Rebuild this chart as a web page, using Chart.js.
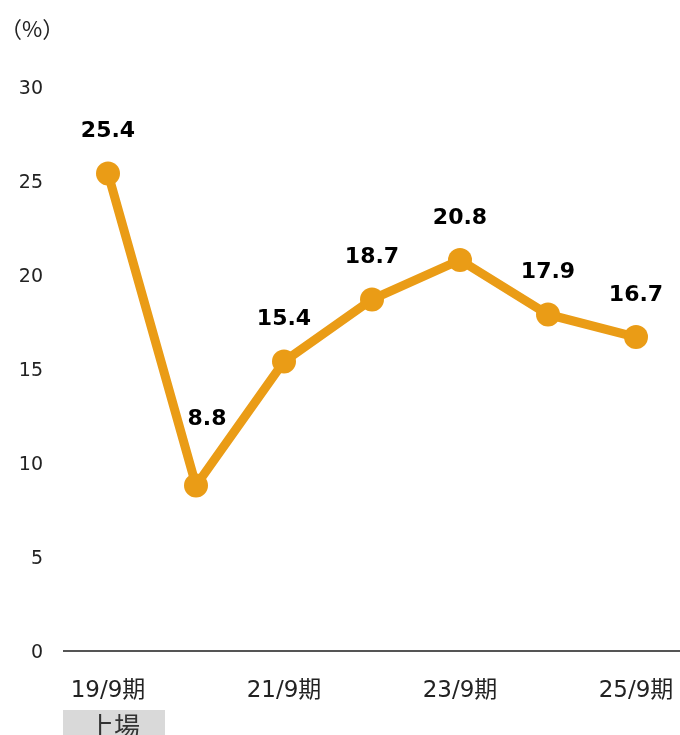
<!DOCTYPE html>
<html><head><meta charset="utf-8">
<script src="https://cdn.jsdelivr.net/npm/chart.js@4/dist/chart.umd.min.js"></script>
<style>html,body{margin:0;padding:0;background:#fff}canvas{display:block}</style>
</head><body>
<canvas id="c" width="680" height="735"></canvas>
<script>
const categories = ["19/9期","20/9期","21/9期","22/9期","23/9期","24/9期","25/9期"];
const roeValues = [25.4, 8.8, 15.4, 18.7, 20.8, 17.9, 16.7];
const shownTickIndexes = [0, 2, 4, 6];
const unitLabel = "（%）";
const listingNote = "上場";

const FONT = "'DejaVu Sans','Noto Sans CJK JP',sans-serif";
const CJK = "'Noto Sans CJK JP','DejaVu Sans',sans-serif";
const ORANGE = "#EA9C16";

const extras = {
  id: 'extras',
  afterDatasetsDraw(chart) {
    const ctx = chart.ctx;
    const meta = chart.getDatasetMeta(0);
    ctx.save();
    ctx.fillStyle = '#000';
    ctx.font = "bold 22px " + FONT;
    ctx.textAlign = 'center';
    ctx.textBaseline = 'middle';
    meta.data.forEach((pt, i) => {
      let dx = 0, dy = -42;
      if (i === 1) { dx = 11; dy = -66; }
      ctx.fillText(roeValues[i].toFixed(1), pt.x + dx, pt.y + dy);
    });
    ctx.fillStyle = '#222';
    ctx.font = "22px " + CJK;
    ctx.textAlign = 'left';
    ctx.fillText(unitLabel, 0, 29);
    const x0 = chart.scales.x.getPixelForValue(0);
    ctx.fillStyle = '#d9d9d9';
    ctx.fillRect(x0 - 45, 710, 102, 30);
    ctx.fillStyle = '#333';
    ctx.font = "26px " + CJK;
    ctx.textAlign = 'center';
    ctx.fillText(listingNote, x0 + 6, 726);
    ctx.restore();
  }
};

new Chart(document.getElementById('c'), {
  type: 'line',
  data: {
    labels: categories,
    datasets: [{
      data: roeValues,
      borderColor: ORANGE,
      backgroundColor: ORANGE,
      borderWidth: 9,
      pointRadius: 12,
      pointHoverRadius: 12,
      pointBackgroundColor: ORANGE,
      pointBorderWidth: 0,
      tension: 0,
      clip: false
    }]
  },
  options: {
    responsive: false,
    devicePixelRatio: 1,
    animation: false,
    layout: { autoPadding: false, padding: { top: 87, right: 0, bottom: 0, left: 0 } },
    plugins: { legend: { display: false }, tooltip: { enabled: false } },
    scales: {
      x: {
        offset: true,
        grid: { display: false, drawTicks: false },
        border: { display: true, color: '#555', width: 2 },
        ticks: {
          autoSkip: false, maxRotation: 0, padding: 26,
          color: '#222', font: { size: 23, family: FONT },
          callback: (v, i) => shownTickIndexes.includes(i) ? categories[i] : ''
        },
        afterFit: (s) => { s.height = 84; s.paddingRight = 0; s.paddingLeft = 0; }
      },
      y: {
        min: 0, max: 30,
        grid: { display: false, drawTicks: false },
        border: { display: false },
        ticks: { stepSize: 5, padding: 21, labelOffset: 2, color: '#222', font: { size: 19, family: FONT } },
        afterFit: (s) => { s.width = 64; s.paddingTop = 0; s.paddingBottom = 0; }
      }
    }
  },
  plugins: [extras]
});
</script>
</body></html>
